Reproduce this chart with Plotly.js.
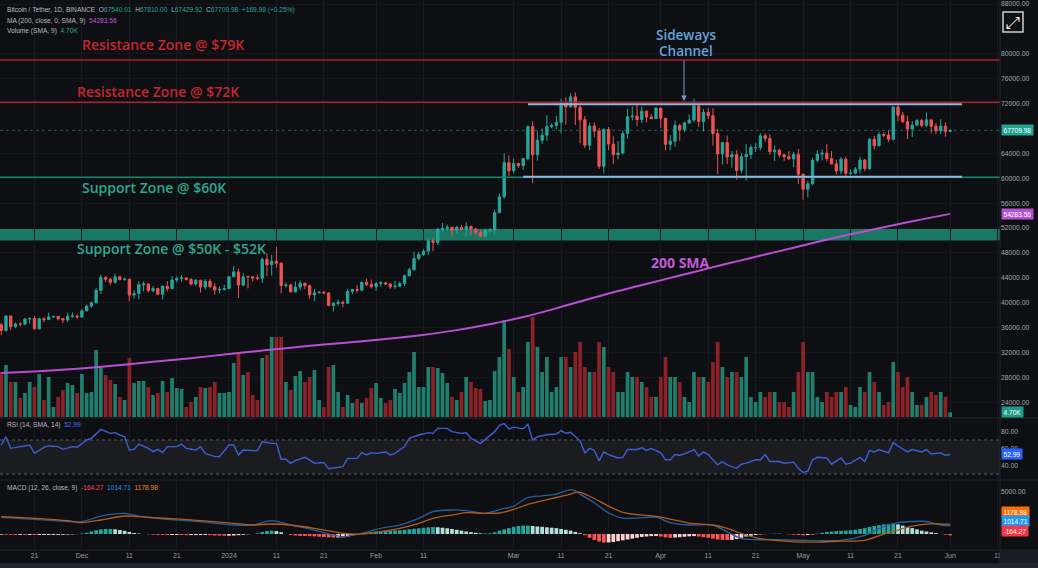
<!DOCTYPE html>
<html><head><meta charset="utf-8">
<script src="https://cdn.plot.ly/plotly-3.0.1.min.js"></script>
<style>html,body{margin:0;padding:0;background:#0e0f13;}#chart{width:1038px;height:568px;}</style>
</head><body><div id="chart"></div>
<script>
// ---- Daily candles, BTCUSDT 1D, day 0 = 2023-11-14 ----
const openP = [
36460,35550,37880,36160,36590,36570,37390,37470,35810,37420,
37290,37720,37800,37450,37240,37830,37860,37710,38690,39470,
39980,41990,44080,43770,43290,44170,43720,43790,41240,41490,
42890,43020,41940,42260,41370,42660,42260,43650,43870,43990,
43740,43020,43610,42520,43440,42580,42070,42140,42280,44180,
44960,42850,44180,44160,43970,43930,46970,46120,46660,46340,
42780,42840,41730,42510,43150,42740,41260,41620,41670,41580,
39570,39900,40080,39930,41820,42120,42030,43300,42940,42580,
43080,43190,43010,42580,42660,43090,44340,45290,47130,47750,
48290,49960,49700,51800,51940,52130,51640,52120,51780,52260,
51850,51300,50730,51570,51730,54480,57040,62500,61200,62390,
62030,63170,68300,63780,66110,66930,68300,68500,69020,72120,
71480,73080,71400,69400,65320,68390,67600,61940,67840,65500,
63800,64080,67210,69880,69990,69450,70780,69850,69580,71280,
69650,65460,65960,68490,67820,68900,69360,71620,69140,70590,
70060,67190,63900,65740,63420,63790,61280,63470,63820,64940,
64940,66840,66410,64280,64500,63770,63460,63120,63840,60640,
58250,59120,62890,63890,64030,63160,62310,61190,63070,60790,
60830,61480,62940,61580,66270,65230,67050,66940,66280,71450,
70140,69120,67930,68530,69290,68510,69390,68370,67630,68360,
67540.01];
const highP = [
36750,37980,37940,36850,36850,37500,37650,37860,37580,37650,
38420,37890,37820,37580,38380,38430,38150,38970,39700,40200,
42420,44490,44300,44050,44700,44360,44040,43800,42100,43430,
43420,43090,42700,42430,42770,43480,44280,44230,44400,44020,
43950,43800,43680,43800,43790,43140,42600,42900,44190,45900,
45500,44770,44340,44230,44500,47250,47900,47700,48970,46500,
43250,43080,43400,43580,43200,42930,42200,41870,41890,41700,
40130,40520,40300,42230,42200,42840,43300,43880,43740,43290,
43490,43380,43120,43540,43420,44520,45600,48200,48170,48590,
50340,50370,52040,52820,52570,52200,52350,52490,52960,52370,
52050,51680,51950,51950,54930,57550,64000,63680,63190,62480,
63230,68490,69170,67640,67990,70130,68800,70000,72800,73000,
73650,73780,72360,70000,68920,68960,68100,68030,68240,66770,
65980,67620,71150,71560,71770,71550,70920,70330,71370,71350,
69680,66930,69290,68730,69100,70300,72790,71740,71170,71270,
71260,67930,65820,66870,64370,64500,64080,65500,65400,65700,
67230,67200,67080,65270,64800,63930,64370,64230,64700,60780,
59600,63320,64520,64630,65500,64400,62990,63420,63470,61450,
61820,63450,63100,66440,66800,67450,67400,67700,71520,71980,
70650,70090,69230,69580,69560,70600,69550,68900,69500,69000,
67810];
const lowP = [
34800,35360,35600,35900,36200,36380,36700,35630,35750,36870,
37250,37550,37150,36750,36880,37600,37500,37600,38650,39200,
39980,41420,43330,42820,43080,43590,43550,40220,40680,40550,
41820,41660,41700,41250,40530,41820,42210,43270,43400,43560,
42760,42720,41630,42100,42310,41300,41520,41960,42190,44150,
40750,42630,42300,43420,43600,43180,44300,44360,45600,41500,
42440,41720,41720,42050,42200,40680,40280,41500,41430,39430,
38560,39490,39260,39820,41400,41620,41800,42690,42280,41880,
42570,42880,42230,42260,42570,42690,44240,45240,46800,47560,
47690,48300,49270,51310,51560,50620,51180,51680,50620,50840,
50900,50520,50620,51260,50880,54460,56700,60360,60770,61660,
61320,62850,59220,62850,65550,66000,68050,67860,67200,68620,
71330,68560,65630,64870,64520,66580,61500,60780,64530,62260,
63050,63820,66390,69280,68370,68910,69000,69500,69560,68100,
64550,64500,65080,66010,67420,68770,69060,68210,67520,69560,
65250,60660,62220,62300,61700,59770,60800,59600,63120,64240,
64500,65890,63810,62780,63320,62800,62980,61800,59100,56550,
56930,58850,62570,62860,62700,62250,60630,60650,60190,60500,
60630,60750,61140,61320,64600,65120,66600,65860,66060,69160,
68850,66300,66620,68480,68220,68210,67230,67130,67120,66680,
67429.92];
const closeP = [
35550,37880,36160,36590,36570,37390,37470,35810,37420,37290,
37720,37800,37450,37240,37830,37860,37710,38690,39470,39980,
41990,44080,43770,43290,44170,43720,43790,41240,41490,42890,
43020,41940,42260,41370,42660,42260,43650,43870,43990,43740,
43020,43610,42520,43440,42580,42070,42140,42280,44180,44960,
42850,44180,44160,43970,43930,46970,46120,46660,46340,42780,
42840,41730,42510,43150,42740,41260,41620,41670,41580,39570,
39900,40080,39930,41820,42120,42030,43300,42940,42580,43080,
43190,43010,42580,42660,43090,44340,45290,47130,47750,48290,
49960,49700,51800,51940,52130,51640,52120,51780,52260,51850,
51300,50730,51570,51730,54480,57040,62500,61200,62390,62030,
63170,68300,63780,66110,66930,68300,68500,69020,72120,71480,
73080,71400,69400,65320,68390,67600,61940,67840,65500,63800,
64080,67210,69880,69990,69450,70780,69850,69580,71280,69650,
65460,65960,68490,67820,68900,69360,71620,69140,70590,70060,
67190,63900,65740,63420,63790,61280,63470,63820,64940,64940,
66840,66410,64280,64500,63770,63460,63120,63840,60640,58250,
59120,62890,63890,64030,63160,62310,61190,63070,60790,60830,
61480,62940,61580,66270,65230,67050,66940,66280,71450,70140,
69120,67930,68530,69290,68510,69390,68370,67630,68360,67540.01,
67709.98];
// volume, thousands of BTC
const volumeK = [
45,52,35,35,19,24,35,30,43,17,
40,10,20,27,34,32,24,43,24,25,
67,50,42,37,33,20,17,59,34,36,
36,30,22,24,36,25,39,29,28,10,
15,20,30,29,30,35,24,24,25,54,
65,42,45,22,17,59,62,80,80,80,
35,27,41,46,35,40,47,17,10,50,
52,25,10,22,14,18,14,19,29,34,
19,14,17,28,24,34,45,65,30,30,
50,50,49,44,34,20,17,25,40,35,
29,28,16,17,46,60,97,68,40,25,
30,75,100,70,45,60,25,30,60,60,
50,65,75,50,45,45,75,70,50,45,
25,25,45,40,40,35,30,20,20,40,
60,40,40,35,20,15,45,40,40,35,
55,75,50,40,45,45,40,60,20,15,
25,20,25,25,15,15,10,25,45,75,
45,45,20,15,25,20,25,25,30,12,
10,30,25,45,35,25,12,15,55,45,
30,40,25,12,12,20,25,22,25,20,
4.7];
// 200 SMA (day index, value)
const smaDay = [0,8,16,24,32,40,48,56,64,72,80,88,96,104,110,116,122,128,134,140,146,152,158,164,170,176,182,188,194,200];
const smaVal = [28700,29000,29400,29900,30500,31100,31750,32400,33000,33550,34100,34750,35600,36700,37700,38900,40200,41500,42650,43800,44950,46100,47200,48300,49400,50500,51500,52450,53400,54283.56];
// RSI (day index, value)
const rsiDay = [0,1,2,4,6,7,9,10,12,13,15,16,18,19,21,23,24,25,26,27,28,29,31,32,33,34,35,37,38,39,41,42,43,45,46,48,49,50,51,53,54,55,57,58,59,60,61,62,64,65,66,67,68,69,71,72,73,75,76,77,78,79,81,82,83,85,86,88,90,91,92,94,95,97,98,99,101,102,104,
105,106,107,108,110,111,112,113,115,117,118,119,120,122,123,124,125,126,127,128,130,131,132,134,135,136,137,139,140,141,142,143,144,146,147,148,149,151,152,153,155,156,157,159,160,161,162,164,165,167,168,169,170,171,172,174,175,177,178,179,181,182,183,184,185,187,188,189,191,192,194,195,196,198,199,200];
const rsiVal = [64.1,73.9,60.2,62.2,64.1,54.3,61.4,63.0,62.2,59.0,62.2,61.4,70.0,72.0,82.5,77.8,78.6,75.9,73.9,58.2,59.0,65.3,60.2,56.3,59.0,55.1,62.2,62.2,65.3,60.2,58.2,62.2,54.3,50.4,50.4,64.1,64.1,52.4,58.2,57.5,57.5,68.0,66.0,66.0,47.3,47.3,42.5,45.7,49.6,46.5,42.5,43.3,43.3,36.3,37.8,38.6,48.4,48.4,55.1,52.4,55.1,54.3,55.9,52.4,54.3,62.2,72.0,75.9,78.6,77.8,83.7,83.7,79.8,77.8,78.6,72.0,66.0,70.8,79.8,
87.2,89.2,83.1,85.1,83.1,88.4,69.8,73.8,76.2,77.1,81.1,77.9,79.1,69.0,54.8,60.1,57.7,45.5,56.0,52.8,48.8,49.6,58.8,58.8,60.9,57.7,60.1,54.8,46.7,46.7,52.8,52.0,53.6,58.8,51.2,56.0,52.8,40.7,44.7,40.7,36.7,41.5,42.7,46.7,46.7,52.8,44.7,44.7,42.7,43.9,36.7,31.8,33.4,46.7,49.6,48.8,41.5,48.8,41.5,42.7,49.6,44.7,57.7,56.0,58.8,54.8,66.9,62.9,56.0,58.8,56.0,58.8,53.6,54.8,52.0,52.99];
// MACD (12,26,9): line & signal (day index), histogram daily
const macdDay = [0,7,14,17,21,26,29,35,42,49,53,57,61,66,70,72,76,80,84,88,91,95,98,102,105,108,111,114,117,120,121,122,125,128,131,134,138,141,145,150,153,156,159,163,169,172,177,182,186,189,192,195,198,200];
const macdLine = [1985,1750,1470,1470,2140,2460,2140,1750,1470,1070,1070,1590,1070,475,-120,-320,80,675,1070,1865,2660,2860,2780,2460,2900,3320,4345,4550,4750,5285,5165,4750,3725,2506,1890,1890,2010,1360,1070,1070,260,-560,-680,-680,-760,-790,-760,-155,870,1360,1490,1490,1070,1014.71];
const macdSignal = [2060,1865,1590,1350,1665,2140,2060,1865,1590,1270,1070,1190,1070,675,280,80,0,280,675,1270,1865,2260,2540,2460,2500,2920,3525,3940,4345,4750,4950,4950,4225,3320,2580,2300,2095,1775,1285,1070,670,60,-440,-760,-965,-965,-850,-760,-20,465,950,1185,1185,1178.98];
const macdHist = [
-80,-90,-100,-110,-110,-115,-115,-120,-120,-120,-115,-110,-100,-90,-70,-50,-20,
60,150,300,450,550,600,600,560,480,380,250,120,
60,0,-40,-80,-100,-115,-120,-120,
-120,-125,-130,-130,-130,-125,-120,-140,-170,-190,-200,-200,-180,-140,-90,-40,
0,80,250,350,400,350,200,0,
-100,-180,-220,-240,-250,-280,-320,-360,-400,-420,-420,-400,-300,-150,-20,
80,150,220,300,360,400,400,420,450,500,560,620,680,740,790,820,800,750,680,600,500,400,300,220,150,80,40,80,200,
400,550,700,850,950,1000,1000,950,900,850,800,750,700,600,500,400,250,100,
-150,-450,-700,-900,-1020,-1000,-950,-850,-750,-650,-550,-450,-350,-300,-250,-250,-300,-400,-450,-420,-380,-330,-280,-250,-300,-380,-450,-550,-650,-700,-720,-700,-600,-450,
-300,-200,-120,-60,-20,20,40,30,0,-40,-80,-120,-150,-120,-60,
50,150,250,300,350,380,400,450,500,600,700,850,950,1050,1150,1200,1230,1150,1000,850,700,550,400,300,200,100,0,-80,-164.27];
// rsi last, drawing levels
const rsiLast = 52.99;
const resistance = [79000, 72200];
const support60 = 60150;
const supportBand = [50000, 52000];
const channel = {top:71900, bottom:60250};
// price-axis tick values (68000 and 84000 are covered by the last-price tag / icon)
const priceTicks = [24000,28000,32000,36000,40000,44000,48000,52000,56000,60000,64000,72000,76000,80000,88000];
const tickDates = ['2023-11-21','2023-12-01','2023-12-11','2023-12-21','2024-01-01','2024-01-11','2024-01-21','2024-02-01','2024-02-11','2024-03-01','2024-03-11','2024-03-21','2024-04-01','2024-04-11','2024-04-21','2024-05-01','2024-05-11','2024-05-21','2024-06-01','2024-06-11'];
const tickText = ['21','Dec','11','21','2024','11','21','Feb','11','Mar','11','21','Apr','11','21','May','11','21','Jun','11'];

function dayToDate(i){ const t = Date.UTC(2023,10,14) + i*86400000; return new Date(t).toISOString().slice(0,19).replace('T',' '); }
const dates = closeP.map((_,i)=>dayToDate(i));
const last = closeP.length-1;
const xRange = ['2023-11-13 17:45','2024-06-11 12:00'];

const UP='#26a69a', DN='#ef5350';
const volColors = closeP.map((c,i)=> c>=openP[i] ? '#1f7f6c' : '#8c2228');
const histColors = macdHist.map((h,i)=>{ const p = i>0?macdHist[i-1]:h;
  if(h>=0) return h>=p ? '#26a69a' : '#b2dfdb';
  return h<p ? '#ff5252' : '#ffcdd2'; });

const traces = [
 {type:'bar', x:dates, y:volumeK, marker:{color:volColors, line:{width:0}}, xaxis:'x', yaxis:'y', hoverinfo:'skip'},
 {type:'candlestick', x:dates, open:openP, high:highP, low:lowP, close:closeP, xaxis:'x', yaxis:'y2',
  increasing:{line:{color:UP,width:1}, fillcolor:UP}, decreasing:{line:{color:DN,width:1}, fillcolor:DN}, whiskerwidth:0, hoverinfo:'none'},
 {type:'scatter', mode:'lines', x:smaDay.map(dayToDate), y:smaVal, xaxis:'x', yaxis:'y2', line:{color:'#b94fd3', width:2, shape:'spline', smoothing:0.8}, hoverinfo:'skip'},
 {type:'scatter', mode:'lines', x:rsiDay.map(dayToDate), y:rsiVal, xaxis:'x', yaxis:'y3', line:{color:'#3f5fd8', width:1.4}, hoverinfo:'skip'},
 {type:'bar', x:dates, y:macdHist, marker:{color:histColors, line:{width:0}}, xaxis:'x', yaxis:'y4', hoverinfo:'skip'},
 {type:'scatter', mode:'lines', x:macdDay.map(dayToDate), y:macdLine, xaxis:'x', yaxis:'y4', line:{color:'#24609f', width:1.3, shape:'spline', smoothing:0.7}, hoverinfo:'skip'},
 {type:'scatter', mode:'lines', x:macdDay.map(dayToDate), y:macdSignal, xaxis:'x', yaxis:'y4', line:{color:'#b45c1c', width:1.3, shape:'spline', smoothing:0.7}, hoverinfo:'skip'}
];

const H=550; const py = v => 1 - v/H;
const tickFont = {family:'Liberation Sans', size:6.8, color:'#a5a8b0'};
const SEP = '#23262e';
const shapes = [
 {type:'rect', xref:'paper', yref:'y2', x0:0, x1:1, y0:supportBand[0], y1:supportBand[1], fillcolor:'#1a7764', line:{width:0}, layer:'below'},
 {type:'line', xref:'paper', yref:'y2', x0:0, x1:1, y0:resistance[0], y1:resistance[0], line:{color:'#a8252c', width:1.5}},
 {type:'line', xref:'paper', yref:'y2', x0:0, x1:1, y0:resistance[1], y1:resistance[1], line:{color:'#a8252c', width:1.5}},
 {type:'line', xref:'paper', yref:'y2', x0:0, x1:1, y0:support60, y1:support60, line:{color:'#16856f', width:1.5}},
 {type:'line', xref:'paper', yref:'y2', x0:0, x1:1, y0:closeP[last], y1:closeP[last], line:{color:'rgba(38,166,154,0.55)', width:1, dash:'dot'}},
 {type:'line', xref:'x', yref:'y2', x0:'2024-03-04 00:00', x1:'2024-06-03 12:00', y0:channel.top, y1:channel.top, line:{color:'#8db6e2', width:2}},
 {type:'line', xref:'x', yref:'y2', x0:'2024-03-03 00:00', x1:'2024-06-03 12:00', y0:channel.bottom, y1:channel.bottom, line:{color:'#8db6e2', width:2}},
 {type:'rect', xref:'paper', yref:'y3', x0:0, x1:1, y0:30, y1:70, fillcolor:'rgba(130,134,148,0.11)', line:{width:0}, layer:'below'},
 {type:'line', xref:'paper', yref:'y3', x0:0, x1:1, y0:70, y1:70, line:{color:'#5d606b', width:1, dash:'dot'}},
 {type:'line', xref:'paper', yref:'y3', x0:0, x1:1, y0:30, y1:30, line:{color:'#5d606b', width:1, dash:'dot'}},
 {type:'line', xref:'paper', yref:'paper', x0:0, x1:1.04, y0:py(418), y1:py(418), line:{color:SEP, width:1}},
 {type:'line', xref:'paper', yref:'paper', x0:0, x1:1.04, y0:py(480), y1:py(480), line:{color:SEP, width:1}},
 {type:'line', xref:'paper', yref:'paper', x0:0, x1:1.04, y0:0, y1:0, line:{color:SEP, width:1}},
 {type:'line', xref:'paper', yref:'paper', x0:1, x1:1, y0:-0.025, y1:1, line:{color:SEP, width:1}},
 {type:'rect', xref:'paper', yref:'paper', x0:1, x1:1.04, y0:py(563), y1:py(551), fillcolor:'#191c24', line:{width:0}},
 {type:'rect', xref:'paper', yref:'paper', x0:0, x1:1.04, y0:py(569), y1:py(563), fillcolor:'#22252d', line:{width:0}},
 {type:'rect', xref:'paper', yref:'paper', x0:1.003, x1:1.023, y0:py(32), y1:py(12), fillcolor:'rgba(0,0,0,0)', line:{color:'#d0d0d0', width:1.5}}
];

const lf = {family:'Liberation Sans', size:6.6, color:'#b8bbc3'};
const tag = (text, y, yref, bg, yshift) => ({xref:'paper', x:1, xanchor:'left', xshift:1, yref:yref, y:y, yanchor:'middle', yshift:yshift||0,
  text:text, showarrow:false, bgcolor:bg, borderpad:1.5, font:{family:'Liberation Sans', size:6.6, color:'#ffffff'}});
const zf = (c,s,w) => ({family:'Open Sans', size:s||14, color:c, weight:w||600});
const annotations = [
 {xref:'paper', yref:'paper', x:0.005, y:py(10), xanchor:'left', yanchor:'middle', showarrow:false, font:lf,
  text:'Bitcoin / Tether, 1D, BINANCE  O<span style="color:#26a69a">'+openP[last].toFixed(2)+'</span>  H<span style="color:#26a69a">'+highP[last].toFixed(2)+'</span>  L<span style="color:#26a69a">'+lowP[last].toFixed(2)+'</span>  C<span style="color:#26a69a">'+closeP[last].toFixed(2)+'  +169.98 (+0.25%)</span>'},
 {xref:'paper', yref:'paper', x:0.005, y:py(21), xanchor:'left', yanchor:'middle', showarrow:false, font:lf,
  text:'MA (200, close, 0, SMA, 9)  <span style="color:#c25ad8">'+smaVal[smaVal.length-1].toFixed(2)+'</span>'},
 {xref:'paper', yref:'paper', x:0.005, y:py(31), xanchor:'left', yanchor:'middle', showarrow:false, font:lf,
  text:'Volume (SMA, 9)  <span style="color:#26a69a">'+volumeK[last].toFixed(2)+'K</span>'},
 {xref:'paper', yref:'paper', x:0.005, y:py(425), xanchor:'left', yanchor:'middle', showarrow:false, font:lf,
  text:'RSI (14, SMA, 14)  <span style="color:#4a6cf0">'+rsiLast.toFixed(2)+'</span>'},
 {xref:'paper', yref:'paper', x:0.005, y:py(488), xanchor:'left', yanchor:'middle', showarrow:false, font:lf,
  text:'MACD (12, 26, close, 9)  <span style="color:#f7525f">'+macdHist[last].toFixed(2)+'</span>  <span style="color:#2196f3">'+macdLine[macdLine.length-1].toFixed(2)+'</span>  <span style="color:#ff8a1e">'+macdSignal[macdSignal.length-1].toFixed(2)+'</span>'},
 {xref:'paper', yref:'paper', x:0.080, y:py(45), xanchor:'left', yanchor:'middle', showarrow:false, text:'Resistance Zone @ $79K', font:zf('#c8262f')},
 {xref:'paper', yref:'paper', x:0.075, y:py(92), xanchor:'left', yanchor:'middle', showarrow:false, text:'Resistance Zone @ $72K', font:zf('#c8262f')},
 {xref:'paper', yref:'paper', x:0.080, y:py(187), xanchor:'left', yanchor:'middle', showarrow:false, text:'Support Zone @ $60K', font:zf('#2aa891')},
 {xref:'paper', yref:'paper', x:0.075, y:py(248), xanchor:'left', yanchor:'middle', showarrow:false, text:'Support Zone @ $50K - $52K', font:zf('#2aa891')},
 {xref:'paper', yref:'paper', x:0.686, y:py(35), xanchor:'center', yanchor:'middle', showarrow:false, text:'Sideways', font:zf('#62a3dc',13.5)},
 {xref:'paper', yref:'paper', x:0.686, y:py(51), xanchor:'center', yanchor:'middle', showarrow:false, text:'Channel', font:zf('#62a3dc',13.5)},
 {xref:'paper', yref:'paper', x:0.684, y:py(101), ax:0, ay:-42, showarrow:true, text:'', arrowhead:2, arrowsize:1.1, arrowwidth:1, arrowcolor:'#6f9ccc'},
 {xref:'paper', yref:'paper', x:0.680, y:py(262), xanchor:'center', yanchor:'middle', showarrow:false, text:'200 SMA', font:zf('#c25ad8',14,700)},
 {xref:'paper', yref:'paper', x:1.013, y:py(22), xanchor:'center', yanchor:'middle', showarrow:false, text:'⤢', font:{family:'DejaVu Sans', size:17, color:'#e6e6e6'}},
 tag(closeP[last].toFixed(2), closeP[last], 'y2', '#22a58f'),
 tag(smaVal[smaVal.length-1].toFixed(2), smaVal[smaVal.length-1], 'y2', '#b352d0'),
 tag(volumeK[last].toFixed(2)+'K', volumeK[last], 'y', '#1e9b86'),
 tag(rsiLast.toFixed(2), rsiLast, 'y3', '#2962ff'),
 tag(macdSignal[macdSignal.length-1].toFixed(2), py(512), 'paper', '#ff6d00'),
 tag(macdLine[macdLine.length-1].toFixed(2), py(521), 'paper', '#2196f3'),
 tag(macdHist[last].toFixed(2), py(530.5), 'paper', '#f23645')
];

const layout = {
 width:1038, height:568, margin:{l:0, r:38, t:0, b:18},
 paper_bgcolor:'#0e0f13', plot_bgcolor:'#0e0f13',
 showlegend:false, hovermode:false, dragmode:false, bargap:0.22,
 xaxis:{type:'date', range:xRange, anchor:'y4', rangeslider:{visible:false}, tickvals:tickDates, ticktext:tickText,
   ticks:'', showgrid:true, gridcolor:'#181a20', gridwidth:1, zeroline:false, showline:false, tickfont:{family:'Liberation Sans', size:7, color:'#9a9da6'}, fixedrange:true},
 yaxis:{domain:[py(417),1], range:[0,417], visible:false, showgrid:false, zeroline:false, fixedrange:true},
 yaxis2:{overlaying:'y', side:'right', anchor:'x', range:[21640,88650], tickvals:priceTicks, tickformat:'.2f',
   showgrid:true, gridcolor:'#15171c', zeroline:false, ticks:'', tickfont:tickFont, fixedrange:true},
 yaxis3:{domain:[py(479),py(419)], range:[24.1,94.7], side:'right', anchor:'x', tickvals:[40,60,80], tickformat:'.2f',
   showgrid:false, zeroline:false, ticks:'', tickfont:tickFont, fixedrange:true},
 yaxis4:{domain:[0,py(481)], range:[-1905,6310], side:'right', anchor:'x', tickvals:[5000], tickformat:'.2f',
   showgrid:false, zeroline:false, ticks:'', tickfont:tickFont, fixedrange:true},
 shapes:shapes, annotations:annotations
};
Plotly.newPlot('chart', traces, layout, {staticPlot:true, displayModeBar:false});
</script></body></html>
